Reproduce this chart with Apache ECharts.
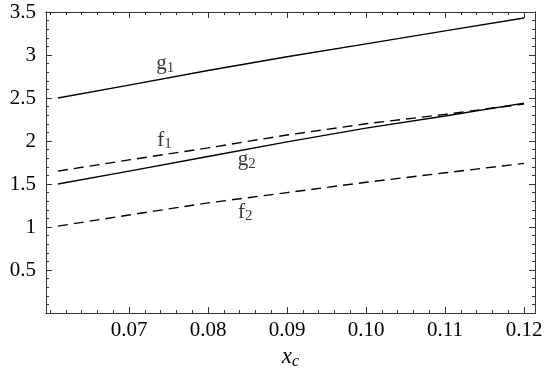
<!DOCTYPE html>
<html>
<head>
<meta charset="utf-8">
<script src="https://cdn.jsdelivr.net/npm/echarts@6/dist/echarts.min.js"></script>
<style>
  html, body { margin: 0; padding: 0; background: #fff; }
  #chart { width: 554px; height: 373px; }
</style>
</head>
<body>
<div id="chart"></div>
<script>
// x_c sample points
var xc = [0.061, 0.07, 0.08, 0.09, 0.10, 0.11, 0.12]
var g1 = [2.50, 2.65, 2.82, 2.98, 3.13, 3.28, 3.43]
var g2 = [1.50, 1.65, 1.82, 1.99, 2.15, 2.29, 2.44]
var f1 = [1.65, 1.78, 1.92, 2.07, 2.20, 2.31, 2.43]
var f2 = [1.01, 1.14, 1.28, 1.40, 1.52, 1.63, 1.74]

var xTicks = [0.07, 0.08, 0.09, 0.10, 0.11, 0.12]
var yTicks = [0.5, 1, 1.5, 2, 2.5, 3, 3.5]

// curve labels: [x, y, name, index]
var curveLabels = [
  [0.0746, 2.90, 'g', '1'],
  [0.0745, 2.01, 'f', '1'],
  [0.0849, 1.78, 'g', '2'],
  [0.0847, 1.17, 'f', '2']
]

var xMin = 0.05949
var xMax = 0.12139
var yMin = 0
var yMax = 3.5

function range(a, b, step) {
  var out = []
  for (var v = a; v <= b + 1e-9; v += step) out.push(+v.toFixed(4))
  return out
}
var xMinor = range(0.06, 0.12, 0.002)
var yMinor = range(0.1, 3.5, 0.1)

var axisColor = '#333'
var font = '"Liberation Serif", "Times New Roman", serif'

function xAxis(pos, values, len, labels) {
  return {
    type: 'value', position: pos, min: xMin, max: xMax,
    axisLine: { show: true, onZero: false, lineStyle: { color: axisColor, width: 1 } },
    axisTick: { show: true, inside: true, length: len, customValues: values, lineStyle: { color: axisColor } },
    axisLabel: labels ? {
      show: true, customValues: values, margin: 7, color: '#000',
      fontFamily: font, fontSize: 21,
      formatter: function (v) { return v.toFixed(2) }
    } : { show: false },
    splitLine: { show: false }
  }
}

function yAxis(pos, values, len, labels) {
  return {
    type: 'value', position: pos, min: yMin, max: yMax,
    axisLine: { show: true, onZero: false, lineStyle: { color: axisColor, width: 1 } },
    axisTick: { show: true, inside: true, length: len, customValues: values, lineStyle: { color: axisColor } },
    axisLabel: labels ? {
      show: true, customValues: values, margin: 10, color: '#000',
      fontFamily: font, fontSize: 21,
      formatter: function (v) { return String(v) }
    } : { show: false },
    splitLine: { show: false }
  }
}

function pairs(ys) {
  return xc.map(function (x, i) { return [x, ys[i]] })
}

function line(name, ys, dashed) {
  return {
    name: name, type: 'line', data: pairs(ys), smooth: false,
    showSymbol: false, silent: true,
    lineStyle: { color: '#000', width: 1.4, type: dashed ? [10, 6] : 'solid' }
  }
}

var chart = echarts.init(document.getElementById('chart'))

var bottomX = xAxis('bottom', xTicks, 6, true)
bottomX.name = '{i|x}{s|c}'
bottomX.nameLocation = 'middle'
bottomX.nameGap = 32
bottomX.nameTextStyle = {
  rich: {
    i: { fontFamily: font, fontStyle: 'italic', fontSize: 23, color: '#000' },
    s: { fontFamily: font, fontStyle: 'italic', fontSize: 16, color: '#000', verticalAlign: 'bottom', padding: [8, 0, 0, 0] }
  }
}

chart.setOption({
  animation: false,
  backgroundColor: '#fff',
  grid: { left: 46, right: 19, top: 12, bottom: 60, containLabel: false, outerBoundsMode: 'none' },
  xAxis: [
    bottomX,
    xAxis('bottom', xMinor, 3, false),
    xAxis('top', xTicks, 6, false),
    xAxis('top', xMinor, 3, false)
  ],
  yAxis: [
    yAxis('left', yTicks, 6, true),
    yAxis('left', yMinor, 3, false),
    yAxis('right', yTicks, 6, false),
    yAxis('right', yMinor, 3, false)
  ],
  series: [
    line('g1', g1, false),
    line('g2', g2, false),
    line('f1', f1, true),
    line('f2', f2, true),
    {
      type: 'scatter', symbolSize: 0, silent: true,
      data: curveLabels,
      label: {
        show: true, position: 'inside',
        formatter: function (p) { return '{m|' + p.value[2] + '}{s|' + p.value[3] + '}' },
        rich: {
          m: { fontFamily: font, fontSize: 21, color: '#000' },
          s: { fontFamily: font, fontSize: 15, color: '#000', verticalAlign: 'bottom', padding: [8, 0, 0, 0] }
        }
      }
    }
  ]
})
</script>
</body>
</html>
